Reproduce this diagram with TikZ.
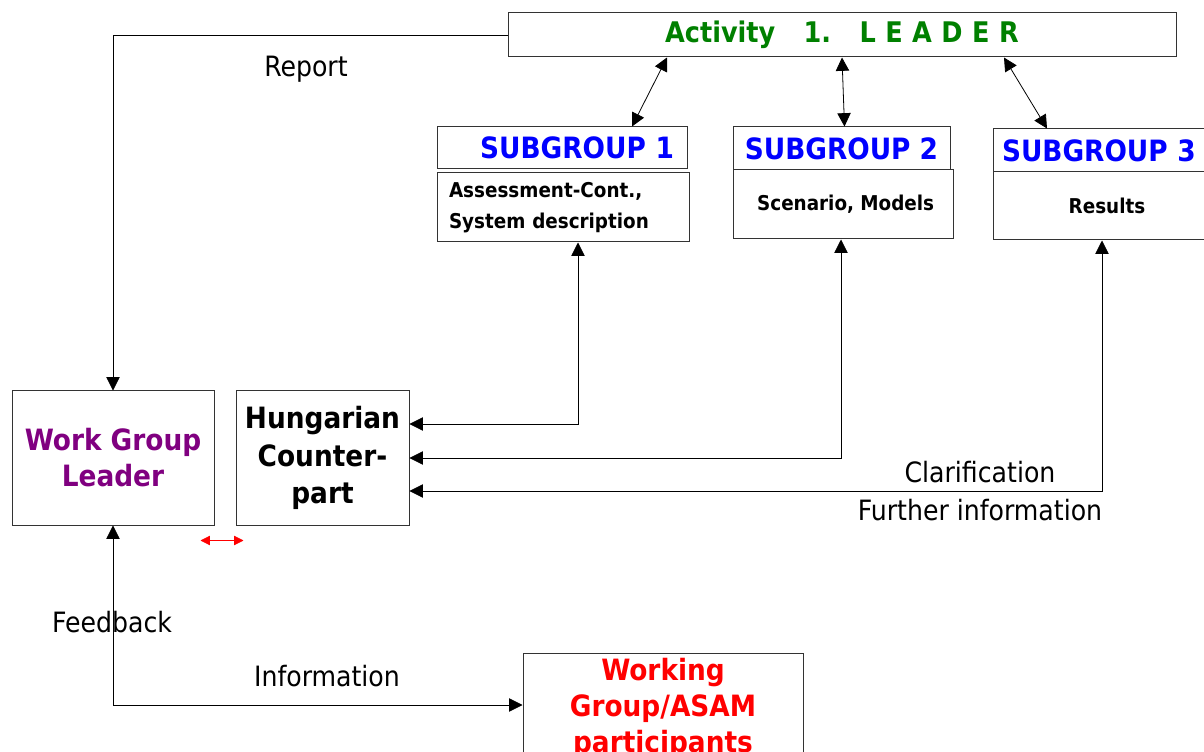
\documentclass[tikz,border=0pt]{standalone}
\usepackage{fontspec}
\setmainfont{DejaVu Sans Condensed}
\usetikzlibrary{arrows.meta,calc}

\definecolor{leadgreen}{RGB}{0,128,0}
\definecolor{subblue}{RGB}{0,0,255}
\definecolor{wglpurple}{RGB}{128,0,128}
\definecolor{asamred}{RGB}{255,0,0}

\tikzset{
  box/.style={draw=black!80, line width=0.75pt, inner sep=0pt},
  big/.style={font=\fontsize{22}{27}\selectfont\bfseries},
  small/.style={font=\fontsize{15.3}{23}\selectfont\bfseries},
  plain/.style={font=\fontsize{21}{23}\selectfont},
  link/.style={line width=0.6pt, -{Triangle[length=10pt,width=10pt]}},
  dbl/.style={line width=0.6pt, {Triangle[length=10pt,width=10pt]}-{Triangle[length=10pt,width=10pt]}},
}

\begin{document}
\begin{tikzpicture}[x=0.75pt, y=-0.75pt]
  \useasboundingbox (0,0) rectangle (1204,752);

  % leader on top
  \node[box, big, text=leadgreen, minimum width=668*0.75pt, minimum height=44*0.75pt,
        font=\fontsize{21.3}{27}\selectfont\bfseries] (leader) at (842,35)
       {Activity\quad 1.\quad L\,\,E\,\,A\,\,D\,\,E\,\,R};

  % subgroups
  \node[box, big, text=subblue, minimum width=250*0.75pt, minimum height=42*0.75pt,
        text width=224*0.75pt, align=right] (sgAhead) at (562,148) {SUBGROUP 1};
  \node[box, small, minimum width=252*0.75pt, minimum height=69*0.75pt,
        text width=228*0.75pt, align=left] (sgAbody) at (563,207.5) {Assessment-Cont.,\\System description};
  \node[box, big, text=subblue, minimum width=217*0.75pt, minimum height=43*0.75pt] (sgBhead) at (841.5,148.5) {SUBGROUP 2};
  \node[box, small, minimum width=220*0.75pt, minimum height=69*0.75pt] (sgBbody) at (843,204.5) {\hspace*{4pt}Scenario, Models};
  \node[box, big, text=subblue, minimum width=220*0.75pt, minimum height=43*0.75pt,
        text width=202*0.75pt, align=left] (sgChead) at (1103,150.5) {SUBGROUP 3};
  \node[box, small, minimum width=220*0.75pt, minimum height=68*0.75pt] (sgCbody) at (1103,206) {\hspace*{6pt}Results};

  % lower boxes
  \node[box, big, text=wglpurple, align=center, minimum width=202*0.75pt, minimum height=134*0.75pt] (wgl) at (113,458)
       {Work Group\\Leader};
  \node[box, big, align=center, minimum width=173*0.75pt, minimum height=134*0.75pt,
        font=\fontsize{22}{28}\selectfont\bfseries] (hung) at (322.5,458) {Hungarian\\Counter-\\part};
  \node[box, big, text=asamred, align=center, minimum width=280*0.75pt, minimum height=115*0.75pt,
        anchor=north] (asam) at (663,653) {Working\\Group/ASAM\\participants\rule[-8pt]{0pt}{0pt}};

  % connectors
  \draw[link] (leader.west) -| (wgl.north);
  \draw[dbl] ($(leader.south)+(-175,0)$) -- ($(sgAhead.north)+(70,0)$);
  \draw[dbl] (leader.south) -- ($(sgBhead.north)+(3,0)$);
  \draw[dbl] ($(leader.south)+(162,0)$) -- ($(sgChead.north)+(-56,0)$);

  \draw[dbl] ($(sgAbody.south)+(15,0)$) |- ($(hung.east)+(0,-34)$);
  \draw[dbl] ($(sgBbody.south)+(-2,0)$) |- (hung.east);
  \draw[dbl] ($(sgCbody.south)+(-1,0)$) |- ($(hung.east)+(0,33)$);

  \draw[dbl] (wgl.south) |- ($(asam.west)+(0,-6)$);
  \draw[asamred, line width=0.6pt, {Triangle[length=7pt,width=7pt]}-{Triangle[length=7pt,width=7pt]}]
       ($(wgl.south east)+(-14,15)$) -- ($(hung.south west)+(8,15)$);

  % labels
  \node[plain] (report) at (306,69) {Report};
  \node[plain] (clar) at (980,472) {Clarification};
  \node[plain] (further) at (980,510) {Further information};
  \node[plain] (feedback) at (112,622) {Feedback};
  \node[plain] (info) at (327,676) {Information};
\end{tikzpicture}
\end{document}
